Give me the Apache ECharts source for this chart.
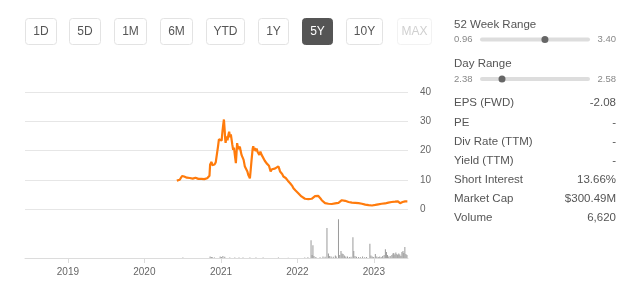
<!DOCTYPE html>
<html>
<head>
<meta charset="utf-8">
<script src="https://cdn.jsdelivr.net/npm/echarts@6/dist/echarts.min.js"></script>
<style>
html,body{margin:0;padding:0;background:#fff;}
#chart{width:640px;height:295px;}
</style>
</head>
<body>
<div id="chart"></div>
<script>
// ---------- DATA ----------
const rangeButtons = ['1D','5D','1M','6M','YTD','1Y','5Y','10Y','MAX'];
const activeButton = '5Y';
const yearTicks = [2019, 2020, 2021, 2022, 2023];
const priceTicks = [0, 10, 20, 30, 40];

const weekRange = {low: '0.96', high: '3.40', lowVal: 0.96, highVal: 3.40, current: 2.40};
const dayRange = {low: '2.38', high: '2.58', lowVal: 2.38, highVal: 2.58, current: 2.42};
const statLabels = ['EPS (FWD)', 'PE', 'Div Rate (TTM)', 'Yield (TTM)', 'Short Interest', 'Market Cap', 'Volume'];
const statValues = ['-2.08', '-', '-', '-', '13.66%', '$300.49M', '6,620'];

const price = [
['2020-06-04',9.7],['2020-06-10',9.9],['2020-06-18',10.0],['2020-06-24',10.1],['2020-06-29',11.3],
['2020-07-03',11.0],['2020-07-09',11.1],['2020-07-15',10.8],['2020-07-22',10.7],['2020-07-29',10.5],
['2020-08-05',10.6],['2020-08-12',10.4],['2020-08-19',10.4],['2020-08-26',10.3],['2020-09-01',10.7],
['2020-09-08',10.4],['2020-09-15',10.3],['2020-09-22',10.2],['2020-09-29',10.3],['2020-10-06',10.2],
['2020-10-13',10.2],['2020-10-20',10.3],['2020-10-27',10.5],['2020-11-03',10.9],['2020-11-07',11.4],
['2020-11-10',15.2],['2020-11-13',14.6],['2020-11-17',16.1],['2020-11-20',15.0],['2020-11-25',15.6],
['2020-12-01',15.2],['2020-12-07',16.0],['2020-12-11',15.4],['2020-12-15',16.3],['2020-12-18',21.5],
['2020-12-22',23.8],['2020-12-26',23.2],['2020-12-30',24.0],['2021-01-04',23.4],['2021-01-08',26.5],
['2021-01-12',29.0],['2021-01-15',30.6],['2021-01-18',27.5],['2021-01-21',24.0],['2021-01-23',22.6],
['2021-01-27',24.8],['2021-02-01',23.5],['2021-02-05',25.2],['2021-02-09',26.4],['2021-02-13',24.6],
['2021-02-17',25.5],['2021-02-20',25.0],['2021-02-24',22.0],['2021-02-28',20.2],['2021-03-04',21.0],
['2021-03-08',18.5],['2021-03-13',15.7],['2021-03-16',19.0],['2021-03-19',22.5],['2021-03-24',20.5],
['2021-03-29',20.2],['2021-04-01',21.3],['2021-04-05',19.8],['2021-04-09',18.5],['2021-04-14',19.0],
['2021-04-19',16.8],['2021-04-25',14.5],['2021-04-29',15.0],['2021-05-03',13.9],['2021-05-07',12.8],
['2021-05-11',11.7],['2021-05-15',11.2],['2021-05-19',10.5],['2021-05-23',13.5],['2021-05-27',16.8],
['2021-06-01',20.5],['2021-06-04',21.5],['2021-06-08',20.0],['2021-06-12',20.8],['2021-06-16',19.8],
['2021-06-20',20.7],['2021-06-25',19.5],['2021-07-03',18.5],['2021-07-08',19.6],['2021-07-14',18.5],
['2021-07-22',17.9],['2021-07-29',16.5],['2021-08-03',17.0],['2021-08-07',15.6],['2021-08-12',15.2],
['2021-08-18',14.8],['2021-08-23',14.5],['2021-08-26',12.8],['2021-09-01',13.6],['2021-09-08',13.4],
['2021-09-15',13.8],['2021-09-20',13.2],['2021-09-24',14.0],['2021-10-02',14.6],['2021-10-06',13.8],
['2021-10-10',12.8],['2021-10-15',13.2],['2021-10-20',12.0],['2021-10-26',11.1],['2021-11-02',11.4],
['2021-11-06',10.6],['2021-11-11',10.0],['2021-11-17',9.6],['2021-11-22',9.2],['2021-11-27',8.8],
['2021-12-03',8.2],['2021-12-08',7.8],['2021-12-13',7.1],['2021-12-18',6.8],['2021-12-23',6.3],
['2021-12-29',6.0],['2022-01-05',5.4],['2022-01-13',4.9],['2022-01-20',4.3],['2022-01-29',3.8],
['2022-02-06',3.5],['2022-02-14',3.2],['2022-02-22',3.4],['2022-03-02',3.2],['2022-03-10',3.5],
['2022-03-18',3.8],['2022-03-26',4.4],['2022-04-03',4.9],['2022-04-10',4.5],['2022-04-19',3.8],
['2022-04-27',3.0],['2022-05-05',2.6],['2022-05-13',2.0],['2022-05-21',1.5],['2022-05-29',1.8],
['2022-06-06',2.0],['2022-06-14',1.7],['2022-06-22',1.5],['2022-06-30',1.9],['2022-07-08',1.8],
['2022-07-16',2.1],['2022-07-24',2.6],['2022-08-01',3.0],['2022-08-09',3.2],['2022-08-17',2.8],
['2022-08-25',2.6],['2022-09-02',2.4],['2022-09-10',2.5],['2022-09-18',2.2],['2022-09-26',2.3],
['2022-10-04',2.1],['2022-10-12',2.0],['2022-10-20',2.0],['2022-10-28',1.9],['2022-11-05',1.8],
['2022-11-13',1.6],['2022-11-21',1.5],['2022-11-29',1.4],['2022-12-07',1.3],['2022-12-15',1.3],
['2022-12-23',1.2],['2022-12-31',1.3],['2023-01-08',1.4],['2023-01-14',1.5],['2023-01-22',1.6],
['2023-01-30',1.7],['2023-02-07',1.8],['2023-02-15',1.7],['2023-02-23',1.9],['2023-03-03',2.0],
['2023-03-11',2.2],['2023-03-19',2.1],['2023-03-27',2.4],['2023-04-04',2.6],['2023-04-12',2.5],
['2023-04-20',2.9],['2023-04-26',2.6],['2023-05-02',2.1],['2023-05-06',2.0],['2023-05-12',2.3],
['2023-05-18',2.4],['2023-05-22',2.2],['2023-05-30',2.6],['2023-06-05',2.4],['2023-06-10',2.6]
];

const volume = [
['2020-07-03',0.5],['2020-11-10',1.5],['2020-11-16',1.0],['2020-11-22',0.8],['2020-12-01',0.6],
['2020-12-28',1.5],['2021-01-03',1.0],['2021-01-10',2.0],['2021-01-19',1.2],['2021-02-12',0.5],
['2021-03-08',0.5],['2021-03-28',0.5],['2021-04-16',0.4],['2021-05-19',0.6],['2021-06-17',0.4],
['2021-07-21',0.4],['2021-10-02',0.4],['2021-11-18',0.3],
['2022-02-05',0.5],['2022-02-20',0.7],['2022-03-07',17.7],['2022-03-12',3.0],['2022-03-16',12.7],
['2022-03-21',2.0],['2022-03-30',1.0],['2022-04-19',0.8],['2022-05-03',1.5],['2022-05-13',1.2],
['2022-05-22',30.0],['2022-05-29',4.5],['2022-06-04',2.0],['2022-06-11',1.5],['2022-06-21',1.2],
['2022-07-01',2.5],['2022-07-05',1.5],['2022-07-16',38.7],['2022-07-22',3.0],['2022-07-28',7.0],
['2022-08-02',4.5],['2022-08-07',4.0],['2022-08-13',2.5],['2022-08-20',1.5],['2022-08-28',1.5],
['2022-09-06',1.0],['2022-09-14',1.2],['2022-09-23',20.7],['2022-09-27',7.0],['2022-10-03',2.0],
['2022-10-10',1.2],['2022-10-20',1.0],['2022-10-29',0.8],['2022-11-08',1.5],['2022-11-18',0.8],
['2022-11-27',1.0],['2022-12-13',14.3],['2022-12-18',2.5],['2022-12-24',1.5],['2022-12-31',1.0],
['2023-01-08',4.0],['2023-01-15',1.5],['2023-01-22',1.0],['2023-01-29',1.5],['2023-02-05',1.0],
['2023-02-12',2.0],['2023-02-19',3.0],['2023-02-25',8.7],['2023-03-02',6.0],['2023-03-07',3.0],
['2023-03-13',1.5],['2023-03-20',2.0],['2023-03-28',3.0],['2023-04-02',4.5],['2023-04-06',5.0],
['2023-04-11',3.5],['2023-04-16',5.5],['2023-04-21',4.0],['2023-04-25',3.0],['2023-04-30',4.5],
['2023-05-05',3.5],['2023-05-10',2.0],['2023-05-15',6.0],['2023-05-20',7.0],['2023-05-24',5.0],
['2023-05-29',11.0],['2023-06-03',4.0],['2023-06-08',3.0]
];

// ---------- LAYOUT ----------
const FONT = '"Liberation Sans", Arial, sans-serif';
function ts(s) { const p = s.split('-').map(Number); return new Date(p[0], p[1] - 1, p[2]).getTime(); }
const axisMin = ts('2018-06-10');
const axisMax = ts('2023-06-13');
const yearTs = yearTicks.map(y => new Date(y, 0, 1).getTime());
const priceData = price.map(d => [ts(d[0]), d[1]]);
const volumeData = volume.map(d => [ts(d[0]), d[1]]);

const btnBoxes = [[25,56],[69,100],[114,146],[160,192],[206,244],[258,288],[302,332],[346,382],[397,431]];
const graphic = [];
rangeButtons.forEach((b, i) => {
  const [x0, x1] = btnBoxes[i];
  const active = b === activeButton;
  const faded = b === 'MAX';
  graphic.push({
    type: 'rect', shape: {x: x0 + 0.5, y: 18.5, width: x1 - x0, height: 26, r: 3},
    style: {fill: active ? '#555555' : '#ffffff', stroke: active ? '#555555' : (faded ? '#f2f2f2' : '#e3e3e3'), lineWidth: 1}
  });
  graphic.push({
    type: 'text', x: (x0 + x1) / 2 + 0.5, y: 31.5,
    style: {text: b, font: '12px ' + FONT, fill: active ? '#ffffff' : (faded ? '#d0d0d0' : '#555555'), align: 'center', verticalAlign: 'middle'}
  });
});

function rangeBlock(title, r, yTitle, ySlider) {
  graphic.push({type: 'text', x: 454, y: yTitle, style: {text: title, font: '11.5px ' + FONT, fill: '#555', verticalAlign: 'middle'}});
  graphic.push({type: 'text', x: 454, y: ySlider, style: {text: r.low, font: '9.5px ' + FONT, fill: '#888', verticalAlign: 'middle'}});
  graphic.push({type: 'text', x: 616, y: ySlider, style: {text: r.high, font: '9.5px ' + FONT, fill: '#888', align: 'right', verticalAlign: 'middle'}});
  const tx0 = 480, tx1 = 590;
  graphic.push({type: 'rect', shape: {x: tx0, y: ySlider - 2, width: tx1 - tx0, height: 4, r: 2}, style: {fill: '#dddddd'}});
  const cx = tx0 + (r.current - r.lowVal) / (r.highVal - r.lowVal) * (tx1 - tx0);
  graphic.push({type: 'circle', shape: {cx: cx, cy: ySlider, r: 3.5}, style: {fill: '#666'}});
}
rangeBlock('52 Week Range', weekRange, 25, 39.5);
rangeBlock('Day Range', dayRange, 64, 79);

const statY = [103, 122.7, 141.7, 160.7, 180, 199.3, 218];
statLabels.forEach((l, i) => {
  graphic.push({type: 'text', x: 454, y: statY[i], style: {text: l, font: '11.5px ' + FONT, fill: '#555', verticalAlign: 'middle'}});
  graphic.push({type: 'text', x: 616, y: statY[i], style: {text: statValues[i], font: '11.5px ' + FONT, fill: '#555', align: 'right', verticalAlign: 'middle'}});
});

const chart = echarts.init(document.getElementById('chart'), null, {renderer: 'canvas'});
chart.setOption({
  animation: false,
  backgroundColor: '#fff',
  textStyle: {fontFamily: FONT},
  grid: [
    {left: 25, right: 232, top: 92, height: 117},
    {left: 25, right: 232, top: 218, height: 40}
  ],
  xAxis: [
    {type: 'value', gridIndex: 0, min: axisMin, max: axisMax,
     axisLine: {show: false}, axisTick: {show: false}, axisLabel: {show: false}, splitLine: {show: false}},
    {type: 'value', gridIndex: 1, min: axisMin, max: axisMax,
     axisLine: {show: true, onZero: false, lineStyle: {color: '#dcdcdc', width: 1}},
     axisTick: {show: true, customValues: yearTs, length: 5, lineStyle: {color: '#dcdcdc'}},
     axisLabel: {show: true, customValues: yearTs, color: '#666', fontSize: 10, margin: 9, fontFamily: FONT,
       formatter: v => String(new Date(v).getFullYear())},
     splitLine: {show: false}}
  ],
  yAxis: [
    {type: 'value', gridIndex: 0, position: 'right', min: priceTicks[0], max: priceTicks[priceTicks.length - 1], interval: 10,
     axisLine: {show: false}, axisTick: {show: false},
     axisLabel: {color: '#666', fontSize: 10, margin: 12, fontFamily: FONT},
     splitLine: {show: true, lineStyle: {color: '#e6e6e6', width: 1}}},
    {type: 'value', gridIndex: 1, min: 0, max: 40, show: false, splitLine: {show: false}}
  ],
  series: [
    {type: 'line', xAxisIndex: 0, yAxisIndex: 0, data: priceData, showSymbol: false, symbol: 'none',
     lineStyle: {color: '#ff7b0c', width: 2.2}, silent: true},
    {type: 'bar', xAxisIndex: 1, yAxisIndex: 1, data: volumeData, barWidth: 1,
     itemStyle: {color: '#9a9a9a'}, silent: true}
  ],
  graphic: graphic
});
</script>
</body>
</html>
